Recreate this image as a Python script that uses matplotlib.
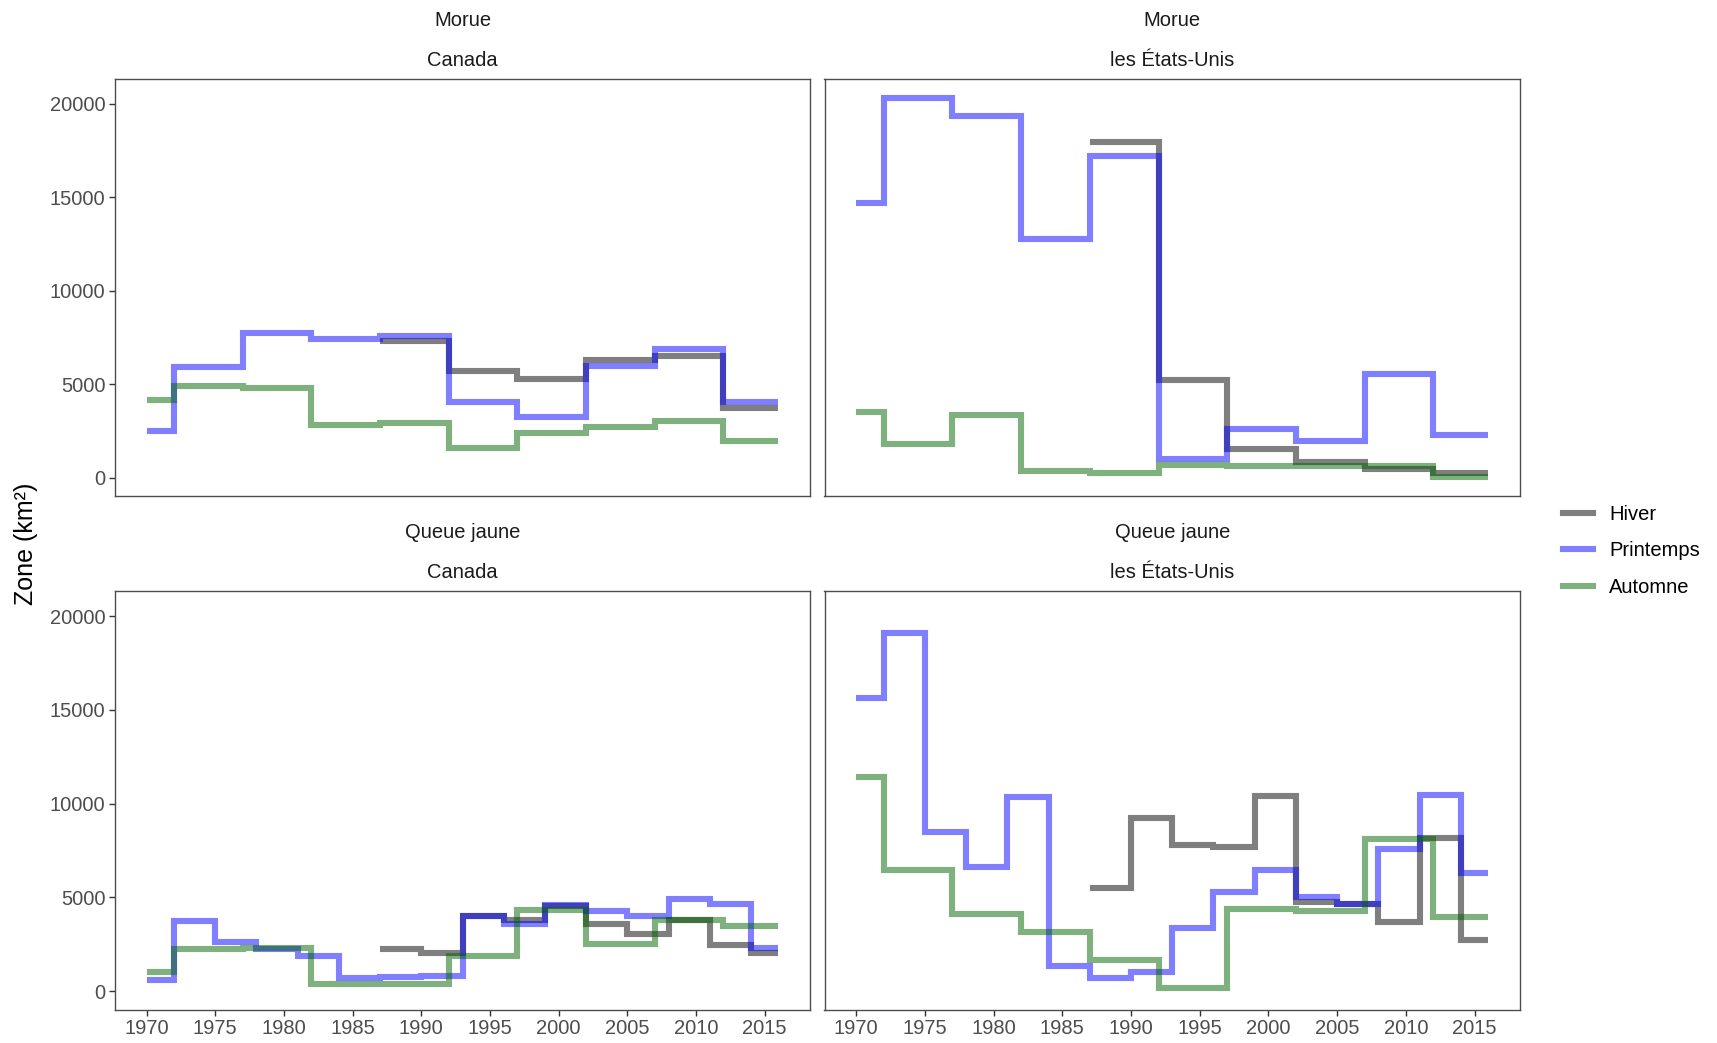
import numpy as np
import matplotlib
matplotlib.use("Agg")
import matplotlib.pyplot as plt
from matplotlib.lines import Line2D

plt.rcParams['font.family'] = ['Liberation Sans', 'DejaVu Sans']

# ---------------- data ----------------
seasons = ["Hiver", "Printemps", "Automne"]
season_colors = ["black", "blue", "darkgreen"]

edges5 = [1970, 1972, 1977, 1982, 1987, 1992, 1997, 2002, 2007, 2012, 2016]
edges5_w = [1987, 1992, 1997, 2002, 2007, 2012, 2016]
edges3 = [1970, 1972, 1975, 1978, 1981, 1984, 1987, 1990, 1993, 1996, 1999,
          2002, 2005, 2008, 2011, 2014, 2016]
edges3_w = [1987, 1990, 1993, 1996, 1999, 2002, 2005, 2008, 2011, 2014, 2016]

# Morue - Canada
cod_ca_hiver = [7300, 5710, 5270, 6280, 6510, 3760]
cod_ca_printemps = [2480, 5930, 7760, 7440, 7580, 4030, 3230, 5980, 6900, 4060]
cod_ca_automne = [4150, 4910, 4820, 2820, 2910, 1600, 2380, 2700, 3050, 1950]

# Morue - les États-Unis
cod_us_hiver = [17960, 5220, 1540, 830, 480, 270]
cod_us_printemps = [14720, 20320, 19330, 12760, 17220, 1010, 2610, 1990, 5540, 2310]
cod_us_automne = [3530, 1810, 3360, 340, 250, 660, 650, 640, 620, 40]

# Queue jaune - Canada
yt_ca_hiver = [2260, 2060, 4010, 3800, 4550, 3590, 3060, 3800, 2470, 2060]
yt_ca_printemps = [600, 3770, 2650, 2260, 1880, 690, 780, 790, 4010, 3570,
                   4600, 4300, 4010, 4900, 4640, 2330]
yt_ca_automne = [1040, 2240, 2290, 370, 370, 1880, 4330, 2500, 3800, 3500]

# Queue jaune - les États-Unis
yt_us_hiver = [5490, 9220, 7800, 7710, 10410, 4780, 4650, 3680, 8150, 2740]
yt_us_printemps = [15650, 19070, 8510, 6610, 10340, 1350, 690, 1050, 3360, 5310,
                   6470, 5040, 4650, 7570, 10460, 6320]
yt_us_automne = [11440, 6470, 4100, 3180, 1670, 160, 4370, 4250, 8120, 3980]

panels = [
    ("Morue", "Canada", [(cod_ca_hiver, edges5_w), (cod_ca_printemps, edges5), (cod_ca_automne, edges5)]),
    ("Morue", "les États-Unis", [(cod_us_hiver, edges5_w), (cod_us_printemps, edges5), (cod_us_automne, edges5)]),
    ("Queue jaune", "Canada", [(yt_ca_hiver, edges3_w), (yt_ca_printemps, edges3), (yt_ca_automne, edges5)]),
    ("Queue jaune", "les États-Unis", [(yt_us_hiver, edges3_w), (yt_us_printemps, edges3), (yt_us_automne, edges5)]),
]

x_ticks = list(range(1970, 2016, 5))
y_ticks = [0, 5000, 10000, 15000, 20000]

# ---------------- figure ----------------
W, H = 1717, 1043
fig = plt.figure(figsize=(W / 100, H / 100), dpi=100)

def rect(x0, y0, x1, y1):
    return [x0 / W, 1 - y1 / H, (x1 - x0) / W, (y1 - y0) / H]

rects = [rect(115, 79, 810, 496), rect(824.5, 79, 1520, 496),
         rect(115, 591, 810, 1009.5), rect(824.5, 591, 1520, 1009.5)]
strip_y = [(20.5, 60.5), (20.5, 60.5), (533, 572.5), (533, 572.5)]

# shared limits like ggplot (5% expansion)
all_vals = np.concatenate([np.asarray(v, float) for p in panels for v, _ in p[2]])
vmin, vmax = all_vals.min(), all_vals.max()
r = vmax - vmin
ylim = (vmin - 0.05 * r, vmax + 0.05 * r)
xr = 2016 - 1970
xlim = (1970 - 0.05 * xr, 2016 + 0.05 * xr)

border_col = "#4D4D4D"
tick_col = "#333333"
label_col = "#4D4D4D"
fs_tick = 14.5

for i, (sp, reg, series) in enumerate(panels):
    ax = fig.add_axes(rects[i])
    for (vals, edges), col in zip(series, season_colors):
        ax.stairs(vals, edges, baseline=None, color=col, alpha=0.5, linewidth=4.4)
    ax.set_xlim(*xlim)
    ax.set_ylim(*ylim)
    for s in ax.spines.values():
        s.set_color(border_col)
        s.set_linewidth(1.0)
    ax.tick_params(axis='both', colors=tick_col, labelcolor=label_col,
                   labelsize=fs_tick, length=4, width=1.0, pad=3)
    ax.set_xticks(x_ticks)
    ax.set_yticks(y_ticks)
    if i < 2:
        ax.tick_params(axis='x', bottom=False, labelbottom=False)
    if i % 2 == 1:
        ax.tick_params(axis='y', left=False, labelleft=False)
    cx = (rects[i][0] + rects[i][2] / 2)
    fig.text(cx, 1 - strip_y[i][0] / H, sp, ha='center', va='center',
             fontsize=14.5, color="#1A1A1A")
    fig.text(cx, 1 - strip_y[i][1] / H, reg, ha='center', va='center',
             fontsize=14.5, color="#1A1A1A")

fig.text(26 / W, 1 - 544 / H, "Zone (km²)", rotation=90, ha='center', va='center',
         fontsize=18, color='black')

handles = [Line2D([0], [0], color=c, alpha=0.5, linewidth=4.4) for c in season_colors]
fig.legend(handles, seasons, loc='center left',
           bbox_to_anchor=(1547 / W, 1 - 551 / H), frameon=False,
           fontsize=14.5, handlelength=1.5, handletextpad=0.8, labelspacing=0.88,
           borderpad=0.3)

fig.savefig("out.png", dpi=100)
